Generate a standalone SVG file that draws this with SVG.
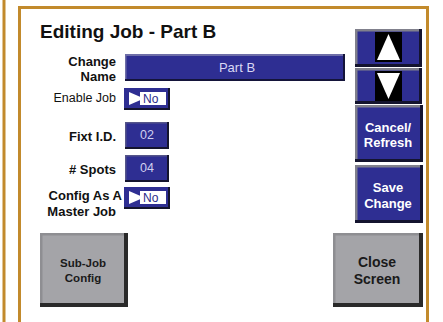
<svg xmlns="http://www.w3.org/2000/svg" width="443" height="322" viewBox="0 0 443 322">
<style>
.lbl{font-family:"Liberation Sans",Arial,sans-serif;font-weight:bold;font-size:13px;fill:#111;text-anchor:end}
.lbln{font-family:"Liberation Sans",Arial,sans-serif;font-size:12.5px;fill:#111;text-anchor:end}
.btxt{font-family:"Liberation Sans",Arial,sans-serif;font-weight:bold;font-size:13px;fill:#fff;text-anchor:middle}
.gtxt{font-family:"Liberation Sans",Arial,sans-serif;font-weight:bold;text-anchor:middle;fill:#1a1a1a}
.val{font-family:"Liberation Sans",Arial,sans-serif;font-size:12.5px;fill:#d0d0f0;text-anchor:middle}
.no{font-family:"Liberation Sans",Arial,sans-serif;font-size:12px;fill:#2a2a8a}
.blue{fill:#2e2e92}
.hi{fill:#80808c}
.sh{fill:#14142e}
.ghi{fill:#8e8e92}
.gsh{fill:#2a2a2a}
.gray{fill:#a4a4a8}
</style>
<rect width="443" height="322" fill="#fff"/>
<g id="frame">
<rect x="2.5" y="0" width="3" height="322" fill="#c28a2c"/>
<path d="M19.5 322 V7.5 H427.5 V322" fill="none" stroke="#c28a2c" stroke-width="3"/>
</g>
<g id="title">
<text x="40" y="38" font-family="Liberation Sans, Arial, sans-serif" font-weight="bold" font-size="19" fill="#111">Editing Job - Part B</text>
</g>
<g id="change-name">
<text class="lbl" x="116" y="66">Change</text>
<text class="lbl" x="116" y="81">Name</text>
<rect x="125" y="54" width="220" height="27" fill="#14143a"/>
<rect x="125" y="54" width="218" height="25" fill="#6e6ea8"/>
<rect x="126.5" y="56" width="216.5" height="23" class="blue"/>
<text x="237" y="72" text-anchor="middle" font-family="Liberation Sans, Arial, sans-serif" font-size="13" fill="#d8d8f4">Part B</text>
</g>
<g id="enable-job">
<text class="lbln" x="116" y="102">Enable Job</text>
<rect x="124" y="88" width="46" height="22" class="sh"/>
<rect x="124" y="88" width="44" height="20" class="blue"/>
<rect x="140" y="92" width="26" height="13" fill="#fff"/>
<polygon points="129,92 144,98.5 129,105" fill="#fff"/>
<text class="no" x="143" y="103">No</text>
</g>
<g id="fixt-id">
<text class="lbl" x="116" y="141">Fixt I.D.</text>
<rect x="125" y="122" width="44" height="27" class="sh"/>
<rect x="125" y="122" width="42" height="25" fill="#55558a"/>
<rect x="126.5" y="123.5" width="40.5" height="23.5" class="blue"/>
<text class="val" x="147" y="139">02</text>
</g>
<g id="spots">
<text class="lbl" x="116" y="174"># Spots</text>
<rect x="125" y="155" width="44" height="27" class="sh"/>
<rect x="125" y="155" width="42" height="25" fill="#55558a"/>
<rect x="126.5" y="156.5" width="40.5" height="23.5" class="blue"/>
<text class="val" x="147" y="172">04</text>
</g>
<g id="config-master">
<text class="lbl" x="122" y="200">Config As A</text>
<text class="lbl" x="116" y="216">Master Job</text>
<rect x="124" y="187" width="46" height="22" class="sh"/>
<rect x="124" y="187" width="44" height="20" class="blue"/>
<rect x="140" y="191" width="26" height="13" fill="#fff"/>
<polygon points="129,191 144,197.5 129,204" fill="#fff"/>
<text class="no" x="143" y="202">No</text>
</g>
<g id="btn-up">
<rect x="355" y="29" width="67" height="38" class="sh"/>
<rect x="355" y="29" width="64" height="35" class="hi"/>
<rect x="357.5" y="31.5" width="61.5" height="32.5" class="blue"/>
<rect x="375" y="32" width="27" height="30" fill="#000"/>
<polygon points="388.5,34 400,60 377,60" fill="#fff"/>
</g>
<g id="btn-down">
<rect x="355" y="68" width="67" height="36" class="sh"/>
<rect x="355" y="68" width="64" height="33" class="hi"/>
<rect x="357.5" y="70.5" width="61.5" height="30.5" class="blue"/>
<rect x="375" y="71" width="27" height="30" fill="#000"/>
<polygon points="377,73 400,73 388.5,99" fill="#fff"/>
</g>
<g id="btn-cancel">
<rect x="355" y="105" width="68" height="57" class="sh"/>
<rect x="355" y="105" width="65" height="54" class="hi"/>
<rect x="357.5" y="107.5" width="62.5" height="51.5" class="blue"/>
<text class="btxt" x="388" y="132">Cancel/</text>
<text class="btxt" x="388" y="147">Refresh</text>
</g>
<g id="btn-save">
<rect x="355" y="165" width="68" height="58" class="sh"/>
<rect x="355" y="165" width="65" height="55" class="hi"/>
<rect x="357.5" y="167.5" width="62.5" height="52.5" class="blue"/>
<text class="btxt" x="388" y="192">Save</text>
<text class="btxt" x="388" y="208">Change</text>
</g>
<g id="btn-subjob">
<rect x="40" y="233" width="88" height="74" class="gsh"/>
<rect x="40" y="233" width="84" height="70" class="ghi"/>
<rect x="42.5" y="235.5" width="81.5" height="67.5" class="gray"/>
<text class="gtxt" x="83" y="267" font-size="11.5">Sub-Job</text>
<text class="gtxt" x="83" y="282" font-size="11.5">Config</text>
</g>
<g id="btn-close">
<rect x="333" y="233" width="90" height="74" class="gsh"/>
<rect x="333" y="233" width="86" height="70" class="ghi"/>
<rect x="335.5" y="235.5" width="83.5" height="67.5" class="gray"/>
<text class="gtxt" x="377" y="267" font-size="14">Close</text>
<text class="gtxt" x="377" y="284" font-size="14">Screen</text>
</g>
</svg>
